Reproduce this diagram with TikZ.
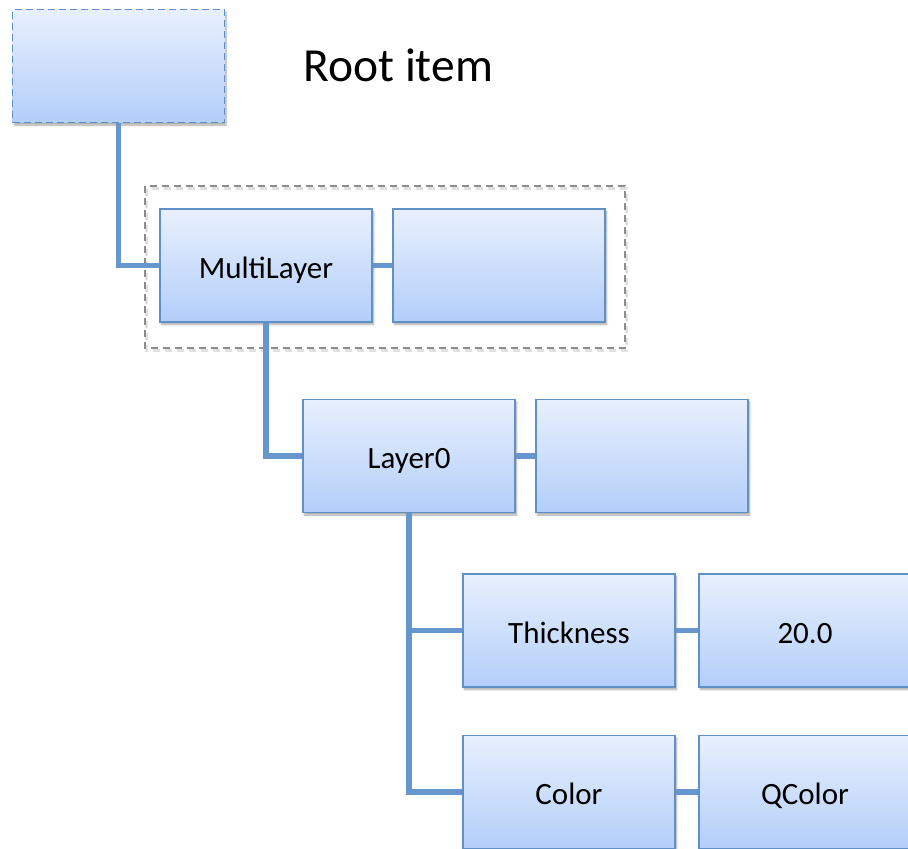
\documentclass[tikz,border=0pt]{standalone}
\usepackage{fontspec}
\setmainfont{Carlito}
\usetikzlibrary{shadows.blur}
\definecolor{boxline}{HTML}{5F90C8}
\definecolor{linkcol}{HTML}{6596CE}
\definecolor{filltop}{HTML}{E8F0FD}
\definecolor{fillbot}{HTML}{B3CEF9}
\definecolor{groupline}{HTML}{8C8C8C}
\tikzset{
  itembox/.style={rectangle, draw=boxline, line width=1.4pt,
    top color=filltop, bottom color=fillbot,
    minimum width=212pt, minimum height=113pt, inner sep=0pt,
    text height=25pt, text depth=0pt,
    font=\fontsize{31}{36}\selectfont,
    blur shadow={shadow xshift=1.5pt, shadow yshift=-2.5pt, shadow blur steps=6, shadow opacity=35}},
  rootbox/.style={itembox, line width=1.7pt, dash pattern=on 7pt off 4pt},
  link/.style={draw=linkcol, line width=5.2pt},
  groupframe/.style={draw=groupline, line width=1.3pt, dash pattern=on 7pt off 5pt},
  groupshade/.style={draw=black!12, line width=2.5pt, dash pattern=on 7pt off 5pt}
}
\begin{document}
\begin{tikzpicture}[x=1pt,y=1pt]
\useasboundingbox (0,0) rectangle (908,-849);
\clip (0,0) rectangle (908,-849);

% frame around the MultiLayer row, with a soft offset shade
\draw[groupshade] (146.5,-188.5) rectangle (626.5,-350.5);
\draw[groupframe] (145,-186) rectangle (625,-348);

% tree items
\node[rootbox] (root) at (118.5,-66) {};
\node[anchor=west, font=\fontsize{47.5}{54}\selectfont] (roottxt) at (300,-65) {Root item};

\node[itembox] (multi) at (266,-265.5) {MultiLayer};
\node[itembox] (multiv) at (499,-265.5) {};

\node[itembox] (layer) at (409,-456) {Layer0};
\node[itembox] (layerv) at (642,-456) {};

\node[itembox] (thick) at (569,-630.5) {Thickness};
\node[itembox] (thickv) at (805,-630.5) {20.0};

\node[itembox] (color) at (569,-792) {Color};
\node[itembox] (colorv) at (805,-792) {QColor};

% connectors
\draw[link] (root.south) |- (multi.west);
\draw[link] (multi.east) -- (multiv.west);
\draw[link] (multi.south) |- (layer.west);
\draw[link] (layer.east) -- (layerv.west);
\draw[link] (layer.south) |- (thick.west);
\draw[link] (layer.south) |- (color.west);
\draw[link] (thick.east) -- (thickv.west);
\draw[link] (color.east) -- (colorv.west);
\end{tikzpicture}
\end{document}
